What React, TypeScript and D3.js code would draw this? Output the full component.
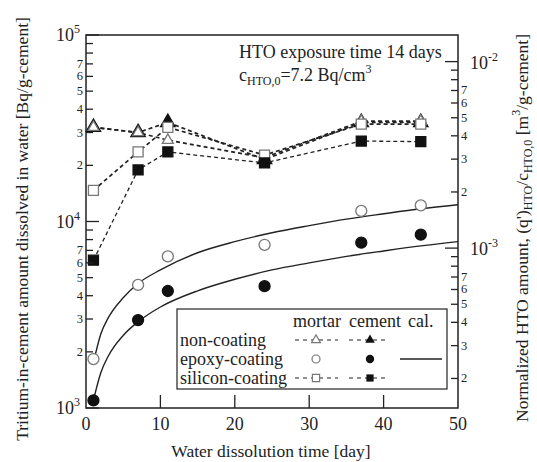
import React from 'react'
import * as d3 from 'd3'

// sampling days
const days = [1, 7, 11, 24, 37, 45]

// Bq/g-cement
const mortarNonCoating = [3.2e4, 3.0e4, 2.73e4, 2.2e4, 3.45e4, 3.45e4]
const cementNonCoating = [3.2e4, 3.0e4, 3.4e4, 2.15e4, 3.4e4, 3.4e4]
const mortarEpoxy = [1.83e3, 4.57e3, 6.5e3, 7.5e3, 1.14e4, 1.22e4]
const cementEpoxy = [1.1e3, 2.96e3, 4.24e3, 4.5e3, 7.7e3, 8.5e3]
const mortarSilicon = [1.47e4, 2.36e4, 3.2e4, 2.27e4, 3.33e4, 3.33e4]
const cementSilicon = [6.2e3, 1.89e4, 2.36e4, 2.06e4, 2.7e4, 2.68e4]

// calculated curves
const calDays = [1, 2, 3, 5, 7, 10, 15, 20, 25, 30, 35, 40, 45, 50]
const calUpper = [1.75e3, 2.5e3, 3.05e3, 3.9e3, 4.65e3, 5.5e3, 6.8e3, 7.8e3, 8.7e3, 9.5e3, 10.3e3, 11.0e3, 11.7e3, 12.3e3]
const calLower = [1.1e3, 1.55e3, 1.9e3, 2.45e3, 2.9e3, 3.48e3, 4.25e3, 4.9e3, 5.5e3, 6.0e3, 6.5e3, 6.95e3, 7.4e3, 7.8e3]

const xTicks = [0, 10, 20, 30, 40, 50]
const labelledDigits = [2, 3, 4, 5, 6, 7]
const c0 = 7.2 // Bq/cm3

const W = 537
const H = 462
const LEFT = 86, RIGHT = 458, TOP = 35, BOTTOM = 408
const FONT = '"Liberation Serif", "DejaVu Serif", serif'
const OPEN = '#777'
const INK = '#222'

export default function App() {
  const x = d3.scaleLinear().domain([0, 50]).range([LEFT, RIGHT])
  const y = d3.scaleLog().domain([1e3, 1e5]).range([BOTTOM, TOP])
  const yR = d3.scaleLog().domain([1e3 / c0 / 1e6, 1e5 / c0 / 1e6]).range([BOTTOM, TOP])

  const pts = (vals: number[], xs = days) => xs.map((d, i) => [d, vals[i]] as [number, number])
  const line = d3.line<[number, number]>().x(d => x(d[0])).y(d => y(d[1]))
  const curve = d3.line<[number, number]>().x(d => x(d[0])).y(d => y(d[1])).curve(d3.curveMonotoneX)

  const tri = (s: number) => d3.symbol().type(d3.symbolTriangle).size(s)()
  const sq = (s: number) => d3.symbol().type(d3.symbolSquare).size(s)()
  const circ = (s: number) => d3.symbol().type(d3.symbolCircle).size(s)()

  const digit = (v: number) => Math.round(v / Math.pow(10, Math.floor(Math.log10(v) + 1e-9)))

  const dashed = (vals: number[], w: number) => (
    <path d={line(pts(vals)) || ''} fill="none" stroke={INK} strokeWidth={w} strokeDasharray="4,3" />
  )
  const markers = (vals: number[], d: string, fill: string, stroke: string) =>
    pts(vals).map((p, i) => (
      <path key={i} d={d} transform={`translate(${x(p[0])},${y(p[1])})`} fill={fill} stroke={stroke} strokeWidth={1.3} />
    ))

  const leftTicks = y.ticks()
  const rightTicks = yR.ticks()

  // legend geometry
  const lg = { x: 177, y: 309, w: 270, h: 80 }
  const colM = 316, colC = 370
  const rows = [340, 359, 378]

  return (
    <svg width={W} height={H} style={{ position: 'absolute', left: 0, top: 0, background: '#fff' }} fontFamily={FONT}>
      {/* series lines */}
      {dashed(cementSilicon, 1.3)}
      {dashed(mortarSilicon, 1.7)}
      {dashed(cementNonCoating, 1.7)}
      {dashed(mortarNonCoating, 1.7)}
      <path d={curve(pts(calUpper, calDays)) || ''} fill="none" stroke={INK} strokeWidth={1.4} />
      <path d={curve(pts(calLower, calDays)) || ''} fill="none" stroke={INK} strokeWidth={1.4} />

      {/* markers */}
      {markers(cementNonCoating, tri(90), '#111', '#111')}
      {markers(mortarNonCoating, tri(52), '#fff', OPEN)}
      {markers(mortarSilicon, sq(100), '#fff', OPEN)}
      {markers(cementSilicon, sq(100), '#111', '#111')}
      {markers(mortarEpoxy, circ(95), '#fff', OPEN)}
      {markers(cementEpoxy, circ(95), '#111', '#111')}

      {/* legend */}
      <rect x={lg.x} y={lg.y} width={lg.w} height={lg.h} fill="#fff" stroke="#333" strokeWidth={1.3} />
      <g fontSize={18} fill={INK}>
        <text x={293} y={327}>mortar</text>
        <text x={349} y={327}>cement</text>
        <text x={408} y={327}>cal.</text>
        <text x={180} y={346}>non-coating</text>
        <text x={180} y={365}>epoxy-coating</text>
        <text x={180} y={384}>silicon-coating</text>
      </g>
      {[rows[0], rows[2]].map((ry, i) => (
        <g key={i}>
          <line x1={295} x2={338} y1={ry} y2={ry} stroke={INK} strokeWidth={1.2} strokeDasharray="4,4" />
          <line x1={349} x2={388} y1={ry} y2={ry} stroke={INK} strokeWidth={1.2} strokeDasharray="4,4" />
        </g>
      ))}
      <path d={tri(34) || ''} transform={`translate(${colM},${rows[0]})`} fill="#fff" stroke={OPEN} strokeWidth={1.2} />
      <path d={tri(40) || ''} transform={`translate(${colC},${rows[0]})`} fill="#111" />
      <path d={circ(50) || ''} transform={`translate(${colM},${rows[1]})`} fill="#fff" stroke={OPEN} strokeWidth={1.2} />
      <path d={circ(55) || ''} transform={`translate(${colC},${rows[1]})`} fill="#111" />
      <path d={sq(52) || ''} transform={`translate(${colM},${rows[2]})`} fill="#fff" stroke={OPEN} strokeWidth={1.2} />
      <path d={sq(52) || ''} transform={`translate(${colC},${rows[2]})`} fill="#111" />
      <line x1={400} x2={442} y1={rows[1]} y2={rows[1]} stroke={INK} strokeWidth={1.4} />

      {/* frame */}
      <rect x={LEFT} y={TOP} width={RIGHT - LEFT} height={BOTTOM - TOP} fill="none" stroke={INK} strokeWidth={1.5} />

      {/* left axis */}
      {leftTicks.map((v, i) => {
        const dg = digit(v)
        const major = dg === 1
        return (
          <g key={i}>
            <line x1={LEFT} x2={LEFT + (major ? 13 : 7)} y1={y(v)} y2={y(v)} stroke={INK} strokeWidth={1.3} />
            {major ? (
              <text x={80} y={y(v) + 6} textAnchor="end" fontSize={18} fill={INK}>
                10<tspan dy={-8} fontSize={12}>{Math.round(Math.log10(v))}</tspan>
              </text>
            ) : labelledDigits.includes(dg) ? (
              <text x={83} y={y(v) + 4} textAnchor="end" fontSize={12.5} fill={INK}>{dg}</text>
            ) : null}
          </g>
        )
      })}

      {/* right axis */}
      {rightTicks.map((v, i) => {
        const dg = digit(v)
        const major = dg === 1
        return (
          <g key={i}>
            <line x1={RIGHT} x2={RIGHT - (major ? 13 : 7)} y1={yR(v)} y2={yR(v)} stroke={INK} strokeWidth={1.3} />
            {major ? (
              <text x={470} y={yR(v) + 7} fontSize={18} fill={INK}>
                10<tspan dy={-8} fontSize={12}>{Math.round(Math.log10(v))}</tspan>
              </text>
            ) : labelledDigits.includes(dg) ? (
              <text x={461} y={yR(v) + 4} fontSize={12.5} fill={INK}>{dg}</text>
            ) : null}
          </g>
        )
      })}

      {/* bottom axis */}
      {xTicks.map((t, i) => (
        <g key={i}>
          {t > 0 && t < 50 && <line x1={x(t)} x2={x(t)} y1={BOTTOM} y2={BOTTOM - 13} stroke={INK} strokeWidth={1.3} />}
          <text x={x(t)} y={430} textAnchor="middle" fontSize={18} fill={INK}>{t}</text>
        </g>
      ))}

      {/* annotation */}
      <text x={239} y={58} fontSize={18} fill={INK}>HTO exposure time 14 days</text>
      <text x={239} y={81} fontSize={18} fill={INK}>
        c<tspan dy={4} fontSize={12}>HTO,0</tspan><tspan dy={-4}>=7.2 Bq/cm</tspan><tspan dy={-8} fontSize={12}>3</tspan>
      </text>

      {/* axis titles */}
      <text x={271} y={457} textAnchor="middle" fontSize={17.5} fill={INK}>Water dissolution time [day]</text>
      <text transform="translate(28,229) rotate(-90)" textAnchor="middle" fontSize={17.5} fill={INK}>
        Tritium-in-cement amount dissolved in water [Bq/g-cement]
      </text>
      <text transform="translate(528,228) rotate(-90)" textAnchor="middle" fontSize={17.5} fill={INK}>
        Normalized HTO amount, (q')<tspan dy={4} fontSize={12}>HTO</tspan><tspan dy={-4}>/c</tspan><tspan dy={4} fontSize={12}>HTO,0</tspan><tspan dy={-4}> [m</tspan><tspan dy={-8} fontSize={12}>3</tspan><tspan dy={8}>/g-cement]</tspan>
      </text>
    </svg>
  )
}
